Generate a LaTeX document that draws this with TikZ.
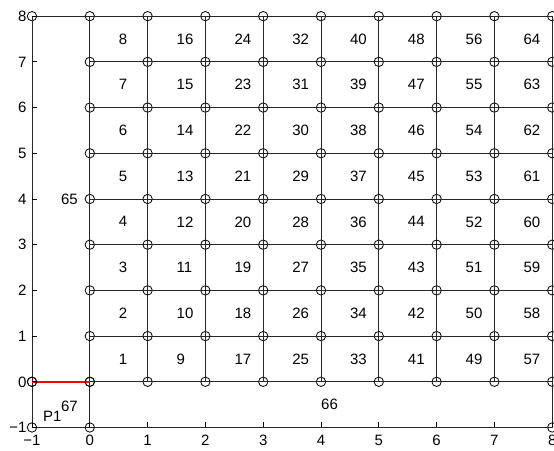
\documentclass[tikz,border=0pt]{standalone}
\usepackage{fontspec}
\setmainfont{Liberation Sans}
\begin{document}
\begin{tikzpicture}[x=57.8pt,y=45.7pt,
  font=\fontsize{15}{18}\selectfont,
  pt/.style={circle,draw=black,line width=0.8pt,minimum size=9.4pt,inner sep=0pt},
  edge/.style={draw=black!85,line width=0.8pt},
  redge/.style={draw=red,line width=1.6pt},
  lbl/.style={anchor=west,inner sep=0pt,text depth=0pt},
  tk/.style={draw=black,line width=0.8pt},
  ylab/.style={anchor=east,inner sep=0pt,text depth=0pt,xshift=-5.3pt},
  xlab/.style={anchor=north,inner sep=0pt,text depth=0pt,yshift=-7.3pt}]
\useasboundingbox (-1.5536,-1.514) rectangle (8.031,8.354);
% markers
\foreach \i in {0,...,8} {
  \foreach \j in {0,...,8} {
    \node[pt] (p-\i-\j) at (\i,\j) {};
  }
}
\node[pt] (qa) at (-1,8) {};
\node[pt] (qb) at (-1,0) {};
\node[pt] (qc) at (-1,-1) {};
\node[pt] (qd) at (0,-1) {};
\node[pt] (qe) at (8,-1) {};
% grid lines
\foreach \j in {0,...,8} {
  \draw[edge] (p-0-\j.center) -- (p-8-\j.center);
  \draw[edge] (p-\j-0.center) -- (p-\j-8.center);
}
\draw[edge] (qc.center) -- (qa.center) -- (p-0-8.center);
\draw[edge] (qc.center) -- (qe.center) -- (p-8-0.center);
\draw[edge] (qd.center) -- (p-0-0.center);
\draw[redge] (qb.center) -- (p-0-0.center);
\node[pt] at (qb) {};
\node[pt] at (p-0-0) {};
% ticks
\foreach \v in {-1,...,8} {
  \draw[tk] (-1,\v) -- ++(5pt,0);
  \draw[tk] (\v,-1) -- ++(0,5pt);
}
% cell labels
\foreach \c in {0,...,7} {
  \foreach \r in {0,...,7} {
    \pgfmathtruncatemacro{\n}{8*\c+\r+1}
    \node[lbl] (c\n) at (\c+0.5,\r+0.5) {\n};
  }
}
\node[lbl] (l65) at (-0.5,4) {65};
\node[lbl] (l66) at (4,-0.5) {66};
\node[lbl] (l67) at (-0.5,-0.53) {67};
\node[lbl] (lp1) at (-0.81,-0.75) {P1};
% tick labels
\node[ylab] (y-1) at (-1,-1) {−1};
\foreach \v in {0,...,8} {
  \node[ylab] (y\v) at (-1,\v) {\v};
}
\node[xlab] (x-1) at (-1,-1) {−1};
\foreach \v in {0,...,8} {
  \node[xlab] (x\v) at (\v,-1) {\v};
}
\end{tikzpicture}
\end{document}
